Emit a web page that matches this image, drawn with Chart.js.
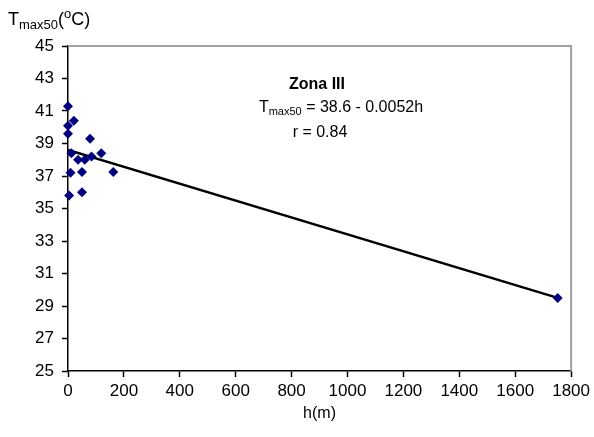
<!DOCTYPE html>
<html>
<head>
<meta charset="utf-8">
<script src="https://cdn.jsdelivr.net/npm/chart.js@4/dist/chart.umd.min.js"></script>
<style>
html, body { margin: 0; padding: 0; background: #fff; }
#wrap { width: 594px; height: 437px; }
</style>
</head>
<body>
<div id="wrap"><canvas id="grafico"></canvas></div>
<script>
// datos
const alturas = [0, 0, 0, 21, 79, 12, 36, 60, 84, 119, 9, 50, 162, 4, 50, 1752];
const tmax50 = [41.3, 40.1, 39.6, 40.4, 39.3, 38.4, 38.0, 38.0, 38.2, 38.4, 37.2, 37.25, 37.25, 35.8, 36.0, 29.5];
const tendenciaX = [0, 1752];
const tendenciaY = [38.6, 29.5];
const ticksX = [0, 200, 400, 600, 800, 1000, 1200, 1400, 1600, 1800];
const ticksY = [25, 27, 29, 31, 33, 35, 37, 39, 41, 43, 45];

const fuente = 'Liberation Sans, Arial, sans-serif';
const tam = 17;

const puntos = alturas.map((h, i) => ({ x: h, y: tmax50[i] }));
const recta = tendenciaX.map((h, i) => ({ x: h, y: tendenciaY[i] }));

// borde gris arriba y a la derecha + textos
const anotaciones = {
    id: 'anotaciones',
    beforeDatasetsDraw(chart) {
        const { ctx, chartArea: a } = chart;
        ctx.save();
        ctx.strokeStyle = '#a0a0a0';
        ctx.lineWidth = 2;
        ctx.beginPath();
        ctx.moveTo(a.left, a.top);
        ctx.lineTo(a.right, a.top);
        ctx.lineTo(a.right, a.bottom);
        ctx.stroke();
        ctx.restore();
    },
    afterDraw(chart) {
        const { ctx } = chart;
        ctx.save();
        ctx.fillStyle = '#000';
        ctx.textBaseline = 'alphabetic';

        // titulo eje y
        let x = 8;
        ctx.font = '18px ' + fuente;
        ctx.fillText('T', x, 25);
        x += ctx.measureText('T').width;
        ctx.font = '13px ' + fuente;
        ctx.fillText('max50', x, 29);
        x += ctx.measureText('max50').width;
        ctx.font = '18px ' + fuente;
        ctx.fillText('(', x, 25);
        x += ctx.measureText('(').width;
        ctx.font = '13px ' + fuente;
        ctx.fillText('o', x, 18);
        x += ctx.measureText('o').width;
        ctx.font = '18px ' + fuente;
        ctx.fillText('C)', x, 25);

        // zona
        ctx.textAlign = 'center';
        ctx.font = 'bold 16px ' + fuente;
        ctx.fillText('Zona III', 317, 89);

        // ecuacion
        ctx.textAlign = 'left';
        const partes = [
            ['T', '16px ' + fuente, 0],
            ['max50', '11px ' + fuente, 3],
            [' = 38.6 - 0.0052h', '16px ' + fuente, 0]
        ];
        let ancho = 0;
        partes.forEach(p => { ctx.font = p[1]; ancho += ctx.measureText(p[0]).width; });
        x = 341 - ancho / 2;
        partes.forEach(p => {
            ctx.font = p[1];
            ctx.fillText(p[0], x, 112 + p[2]);
            x += ctx.measureText(p[0]).width;
        });

        ctx.textAlign = 'center';
        ctx.font = '16px ' + fuente;
        ctx.fillText('r = 0.84', 320, 137);
        ctx.restore();
    }
};

new Chart(document.getElementById('grafico'), {
    type: 'scatter',
    data: {
        datasets: [{
            label: 'Tmax50',
            data: puntos,
            pointStyle: 'rectRot',
            pointRadius: 5,
            backgroundColor: '#000080',
            borderColor: '#000080',
            borderWidth: 0,
            clip: false,
            order: 1
        }, {
            label: 'Tendencia',
            type: 'line',
            data: recta,
            borderColor: '#000',
            borderWidth: 2.5,
            pointRadius: 0,
            fill: false,
            order: 2
        }]
    },
    options: {
        responsive: true,
        maintainAspectRatio: false,
        animation: false,
        layout: { padding: { top: 46, right: 22, left: 0, bottom: 0 } },
        plugins: {
            legend: { display: false },
            tooltip: { enabled: false }
        },
        scales: {
            x: {
                type: 'linear',
                min: 0,
                max: 1800,
                afterBuildTicks: s => { s.ticks = ticksX.map(v => ({ value: v })); },
                afterFit: s => { s.height = 66; },
                ticks: { color: '#000', font: { family: fuente, size: tam }, padding: 4, maxRotation: 0, callback: v => String(v) },
                grid: { drawOnChartArea: false, tickLength: 6, color: '#000', tickWidth: 1.5 },
                border: { color: '#000', width: 1.5 },
                title: { display: true, text: 'h(m)', color: '#000', font: { family: fuente, size: 16 }, padding: { top: 2, bottom: 14 } }
            },
            y: {
                min: 25,
                max: 45,
                afterBuildTicks: s => { s.ticks = ticksY.map(v => ({ value: v })); },
                afterFit: s => { s.width = 68; },
                ticks: { color: '#000', font: { family: fuente, size: tam }, padding: 8, callback: v => String(v) },
                grid: { drawOnChartArea: false, tickLength: 6, color: '#000', tickWidth: 1.5 },
                border: { color: '#000', width: 1.5 }
            }
        }
    },
    plugins: [anotaciones]
});
</script>
</body>
</html>
